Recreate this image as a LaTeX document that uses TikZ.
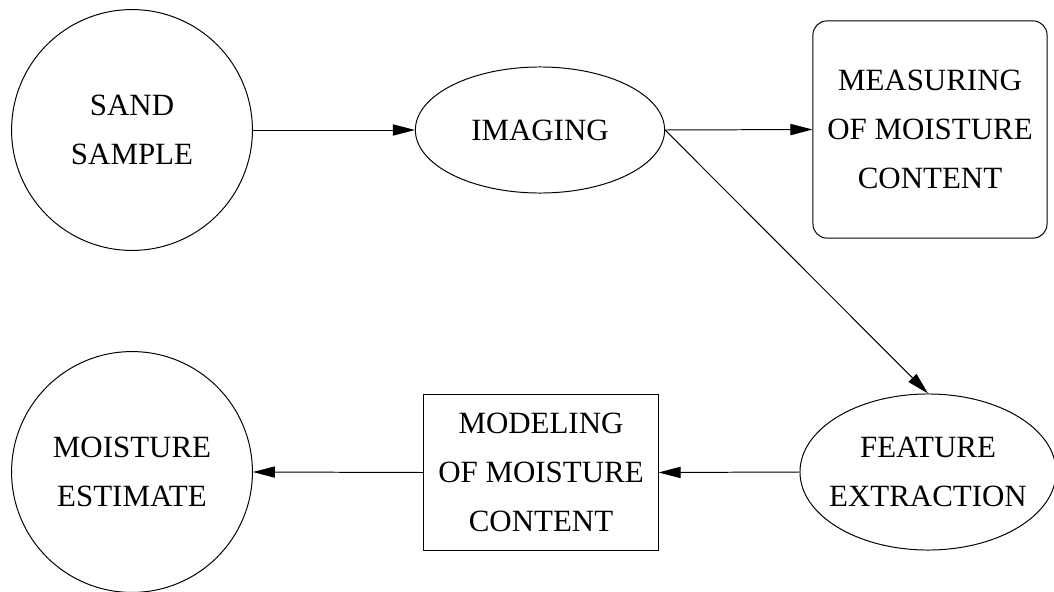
\documentclass[tikz,border=0pt]{standalone}
\usepackage{fontspec}
\setmainfont{Liberation Serif}
\usetikzlibrary{arrows.meta, shapes.geometric}

\tikzset{
  stage/.style={draw, line width=0.7pt, align=center,
    font=\fontsize{22}{35}\selectfont},
  roundstage/.style={stage, circle, inner sep=0pt, minimum size=6.02cm},
  ovalstage/.style={stage, ellipse, inner sep=-0.6cm},
  flow/.style={-{Triangle[length=0.55cm, width=0.28cm]}, line width=0.7pt}
}

\begin{document}
\begin{tikzpicture}[x=0.025cm, y=-0.025cm]

% frame: 1054 x 592 px, 1px = 0.025cm
\useasboundingbox (0,0) rectangle (1054,592);

% ============================================================
% Top row
% ============================================================
\node[roundstage] (sand) at (132,130) {SAND\\SAMPLE};
\node[ovalstage, minimum width=6.23cm, minimum height=3.15cm]
  (imaging) at (540,130) {IMAGING};
\node[stage, rounded corners=0.35cm, minimum width=5.85cm,
      minimum height=5.43cm] (measure) at (930,129.5)
  {MEASURING\\OF MOISTURE\\CONTENT};

% ============================================================
% Bottom row
% ============================================================
\node[ovalstage, minimum width=6.4cm, minimum height=3.9cm]
  (feature) at (928,472) {FEATURE\\EXTRACTION};
\node[stage, minimum width=5.85cm, minimum height=3.875cm]
  (model) at (541,472.5) {MODELING\\OF MOISTURE\\CONTENT};
\node[roundstage] (estimate) at (132,472) {MOISTURE\\ESTIMATE};

% Connectors
\draw[flow] (sand.east) -- (imaging.west);
\draw[flow] (imaging.east) -- (measure.west);
\draw[flow] (imaging.east) -- (feature.north);
\draw[flow] (feature.west) -- (model.east);
\draw[flow] (model.west) -- (estimate.east);

\end{tikzpicture}
\end{document}
